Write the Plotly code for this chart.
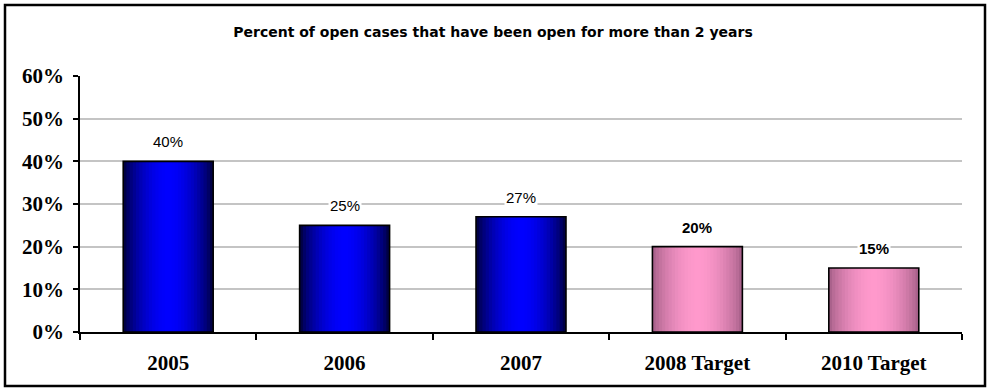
import numpy as np
import plotly.graph_objects as go

# data
categories = ["2005", "2006", "2007", "2008 Target", "2010 Target"]
values = [40, 25, 27, 20, 15]
is_target = [False, False, False, True, True]
label_text = ["40%", "25%", "27%", "<b>20%</b>", "<b>15%</b>"]
y_ticks = [0, 10, 20, 30, 40, 50, 60]
y_tick_labels = ["0%", "10%", "20%", "30%", "40%", "50%", "60%"]

bar_width = 0.51
n_layers = 14

# edge -> centre colours for the fake gradient
blue_edge, blue_mid = (0, 0, 70), (0, 0, 255)
pink_edge, pink_mid = (170, 98, 140), (255, 153, 204)


def mix(a, b, t):
    return "rgb(%d,%d,%d)" % tuple(round(a[k] + (b[k] - a[k]) * t) for k in range(3))


fig = go.Figure()

for i in range(n_layers):
    frac = i / n_layers
    t = np.sin(frac * np.pi / 2) ** 0.8
    cols = [mix(pink_edge, pink_mid, t) if tg else mix(blue_edge, blue_mid, t) for tg in is_target]
    fig.add_trace(go.Bar(
        x=categories,
        y=values,
        width=bar_width * (1 - frac),
        marker=dict(color=cols, line=dict(width=0)),
        hoverinfo="skip",
        showlegend=False,
    ))

# outline on top
fig.add_trace(go.Bar(
    x=categories,
    y=values,
    width=bar_width,
    marker=dict(color="rgba(0,0,0,0)", line=dict(color="black", width=1.6)),
    showlegend=False,
))

for i, (v, lab) in enumerate(zip(values, label_text)):
    fig.add_annotation(
        x=i, y=v, text=lab, showarrow=False,
        yanchor="bottom", yshift=9,
        bgcolor="white", borderpad=1,
        font=dict(family="Liberation Sans, Arial", size=15, color="black"),
    )

fig.update_layout(
    width=991, height=391,
    margin=dict(l=80, r=29, t=76, b=59, autoexpand=False),
    barmode="overlay",
    paper_bgcolor="white",
    plot_bgcolor="white",
    title=dict(
        text="<b>Percent of open cases that have been open for more than 2 years</b>",
        x=0.4975, xanchor="center", y=1 - 32 / 391, yanchor="middle",
        font=dict(family="DejaVu Sans, Liberation Sans", size=14, color="black"),
    ),
    showlegend=False,
)

fig.update_yaxes(
    range=[0, 60], automargin=False,
    tickvals=y_ticks, ticktext=["<b>%s</b>" % s for s in y_tick_labels],
    tickfont=dict(family="Liberation Serif, Times New Roman", size=21, color="black"),
    showgrid=True, gridcolor="#c4c4c4", gridwidth=1.5,
    showline=True, linecolor="black", linewidth=1.5,
    ticks="outside", ticklen=5, tickcolor="black", tickwidth=1.5,
    ticklabelstandoff=5,
    zeroline=False,
)

fig.update_xaxes(
    type="category", automargin=False, tickangle=0,
    range=[-0.5, len(categories) - 0.5],
    ticktext=["<b>%s</b>" % c for c in categories], tickvals=categories,
    tickfont=dict(family="Liberation Serif, Times New Roman", size=21, color="black"),
    showline=True, linecolor="black", linewidth=1.5,
    ticks="outside", ticklen=6, tickcolor="black", tickwidth=1.5,
    tickson="boundaries",
    ticklabelstandoff=11,
    showgrid=False,
)

# frame around the whole chart
fig.add_shape(
    type="rect", xref="paper", yref="paper",
    x0=(5 - 80) / 882, x1=(985 - 80) / 882,
    y0=(332 - 386) / 256, y1=(332 - 5) / 256,
    line=dict(color="black", width=2.5), fillcolor="rgba(0,0,0,0)", layer="below",
)

fig.write_html("out.html", config={"displayModeBar": False},
               post_script="document.body.style.margin='0';")
